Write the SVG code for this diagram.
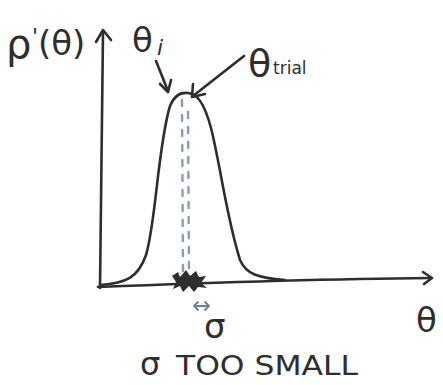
<svg xmlns="http://www.w3.org/2000/svg" width="443" height="385" viewBox="0 0 443 385">
<style>
.ink{fill:none;stroke:#2e2e2e;stroke-width:2.6;stroke-linecap:round;stroke-linejoin:round}
.thin{fill:none;stroke:#6f7f92;stroke-width:1.8;stroke-linecap:round;stroke-linejoin:round}
.dash{fill:none;stroke:#8d9cae;stroke-width:2.4;stroke-dasharray:6 9;stroke-linecap:round}
.t{font-family:"DejaVu Sans",sans-serif;fill:#2e2e2e}
</style>
<rect width="443" height="385" fill="#ffffff"/>
<g id="axes">
<path class="ink" d="M100,288 L103,32"/>
<path class="ink" d="M96,42 L103,30 L111,40"/>
<path class="ink" d="M98,287 C200,283 320,279 430,278"/>
<path class="ink" d="M423,272 L432,278 L424,284"/>
</g>
<g id="curve">
<path class="ink" d="M100,285 C126,283 138,278 146,255 C156,222 158,145 170,106 C174,96 180,92 188,93 C197,94 204,102 211,128 C221,168 226,215 240,260 C246,274 258,278 285,280"/>
</g>
<g id="dashed">
<path class="dash" d="M182,100 L183,278"/>
<path class="dash" d="M188,103 L189,278" stroke-dashoffset="6"/>
</g>
<g id="blob">
<polygon points="172,276 178,272 180,277 186,270 190,276 196,271 199,277 206,276 201,283 207,288 198,287 194,292 189,286 183,292 180,286 173,289 176,282" fill="#2e2e2e"/>
</g>
<g id="connectors">
<path class="ink" d="M156,61 L168,91"/>
<path class="ink" d="M160,84 L168,92 L171,80"/>
<path class="ink" d="M244,56 L193,96"/>
<path class="ink" d="M193,84 L192,97 L205,94"/>
<path class="thin" d="M194,306 L209,306 M198,302 L194,306 L198,310 M205,302 L209,306 L205,310"/>
</g>
<g id="labels">
<text class="t" x="6" y="58" font-size="40">ρ</text>
<text class="t" x="32" y="44" font-size="22">'</text>
<text class="t" x="38" y="55" font-size="34">(θ)</text>
<text class="t" x="132" y="52" font-size="34">θ</text>
<text class="t" x="157" y="55" font-size="22" font-style="italic">i</text>
<text class="t" x="248" y="76" font-size="38">θ</text>
<text class="t" x="273" y="74" font-size="17">trial</text>
<text class="t" x="204" y="338" font-size="34">σ</text>
<text class="t" x="416" y="332" font-size="34">θ</text>
<text class="t" x="140" y="375" font-size="32">σ</text>
<text class="t" x="176" y="375" font-size="26" textLength="182" lengthAdjust="spacingAndGlyphs">TOO SMALL</text>
</g>
</svg>
